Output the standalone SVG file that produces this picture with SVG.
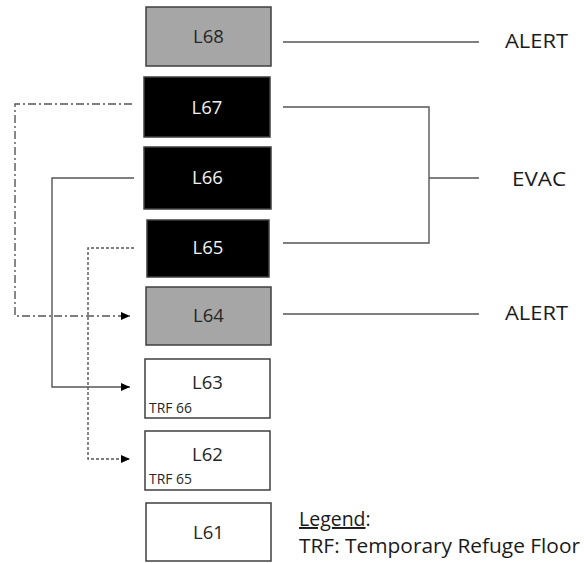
<svg xmlns="http://www.w3.org/2000/svg" width="584" height="563" viewBox="0 0 584 563">
<style>
.box{stroke:#3f3f3f;stroke-width:1.5}
.gray{fill:#a6a6a6}
.black{fill:#000}
.white{fill:#fff}
.lbl{font-family:"Open Sans","Liberation Sans",sans-serif;font-size:18.5px;text-anchor:middle;fill:#262626}
.lblw{fill:#f2f2f2}
.small{font-family:"Open Sans","Liberation Sans",sans-serif;font-size:14px;fill:#262626}
.side{font-family:"Open Sans","Liberation Sans",sans-serif;font-size:19.5px;fill:#1a1a1a}
.conn{fill:none;stroke:#555;stroke-width:1.4}
.dashdot{stroke-dasharray:8 3 2 3}
.dotted{stroke-dasharray:3 2}
</style>
<defs>
<marker id="arr" markerWidth="10" markerHeight="10" refX="9" refY="5" orient="auto" markerUnits="userSpaceOnUse">
<path d="M0,1 L9,5 L0,9 Z" fill="#000"/>
</marker>
</defs>
<rect width="584" height="563" fill="#fff"/>
<g id="L68"><rect class="box gray" x="146" y="7" width="125" height="59"/><text class="lbl" x="208.5" y="43">L68</text></g>
<g id="L67"><rect class="box black" x="144" y="77" width="126" height="60"/><text class="lbl lblw" x="207" y="114">L67</text></g>
<g id="L66"><rect class="box black" x="144" y="147" width="127" height="62"/><text class="lbl lblw" x="207.5" y="184">L66</text></g>
<g id="L65"><rect class="box black" x="147" y="220" width="122" height="57"/><text class="lbl lblw" x="208" y="254">L65</text></g>
<g id="L64"><rect class="box gray" x="146" y="287" width="125" height="58"/><text class="lbl" x="208.5" y="322">L64</text></g>
<g id="L63"><rect class="box white" x="145" y="359" width="125" height="59"/><text class="lbl" x="207.5" y="389">L63</text><text class="small" x="149" y="413" textLength="43" lengthAdjust="spacingAndGlyphs">TRF 66</text></g>
<g id="L62"><rect class="box white" x="145" y="431" width="125" height="59"/><text class="lbl" x="207.5" y="461">L62</text><text class="small" x="149" y="484" textLength="43" lengthAdjust="spacingAndGlyphs">TRF 65</text></g>
<g id="L61"><rect class="box white" x="146" y="503" width="125" height="58"/><text class="lbl" x="208.5" y="539">L61</text></g>
<g id="connectors">
<path class="conn" d="M283,42 H479"/>
<path class="conn" d="M283,107 H429 V243 H283"/>
<path class="conn" d="M429,178 H479"/>
<path class="conn" d="M283,314 H479"/>
<path class="conn dashdot" d="M132,104 H15 V316 H130" marker-end="url(#arr)"/>
<path class="conn" d="M134,178 H52 V387 H130" marker-end="url(#arr)"/>
<path class="conn dotted" d="M134,248 H88 V459 H130" marker-end="url(#arr)"/>
</g>
<g id="labels">
<text class="side" x="505" y="48" textLength="63" lengthAdjust="spacingAndGlyphs">ALERT</text>
<text class="side" x="512" y="186" textLength="54" lengthAdjust="spacingAndGlyphs">EVAC</text>
<text class="side" x="505" y="320" textLength="63" lengthAdjust="spacingAndGlyphs">ALERT</text>
</g>
<g id="legend">
<text class="side" x="299" y="526"><tspan text-decoration="underline">Legend</tspan>:</text>
<text class="side" x="299" y="553" textLength="281" lengthAdjust="spacingAndGlyphs">TRF: Temporary Refuge Floor</text>
</g>
</svg>
